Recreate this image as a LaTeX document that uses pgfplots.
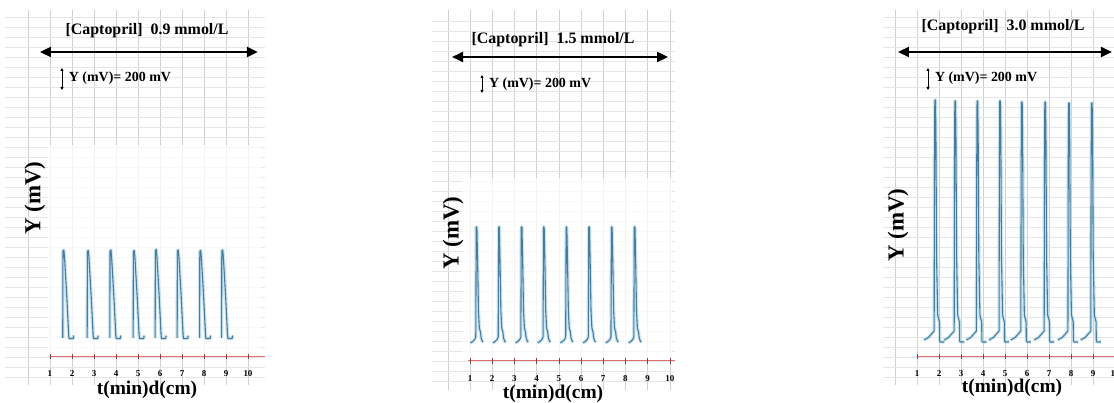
\documentclass[border=0pt]{standalone}
\usepackage{fontspec}
\setmainfont{Liberation Serif}
\usepackage{pgfplots}
\pgfplotsset{compat=1.18}
\usepackage{pgfplotstable}
\usetikzlibrary{arrows.meta}

\definecolor{tracecol}{RGB}{72,124,156}
\definecolor{halocol}{RGB}{172,214,236}
\definecolor{redline}{RGB}{224,112,112}
\definecolor{gridv}{RGB}{208,208,208}
\definecolor{gridh}{RGB}{230,230,230}

% Peak trains (t in min, Y in mV); "nan" rows break the trace between peaks
\pgfplotstableread{
x y
1.58 190
1.59 1060
1.63 1070
1.66 1000
1.76 620
1.85 220
1.87 185
2.06 185
2.08 215
nan nan
2.69 190
2.70 1055
2.74 1065
2.77 995
2.87 615
2.96 220
2.98 185
3.17 185
3.19 215
nan nan
3.72 190
3.73 1060
3.77 1070
3.80 1000
3.90 620
3.99 220
4.01 185
4.20 185
4.22 215
nan nan
4.78 190
4.79 1055
4.83 1065
4.86 995
4.96 615
5.05 220
5.07 185
5.26 185
5.28 215
nan nan
5.78 190
5.79 1065
5.83 1075
5.86 1005
5.96 620
6.05 220
6.07 185
6.26 185
6.28 215
nan nan
6.78 190
6.79 1060
6.83 1070
6.86 1000
6.96 620
7.05 220
7.07 185
7.26 185
7.28 215
nan nan
7.80 190
7.81 1055
7.85 1065
7.88 995
7.98 615
8.07 220
8.09 185
8.28 185
8.30 215
nan nan
8.80 190
8.81 1060
8.85 1070
8.88 1000
8.98 620
9.07 220
9.09 185
9.28 185
9.30 215
}\traceA

\pgfplotstableread{
x y
1.02 180
1.12 195
1.21 215
1.26 240
1.28 1340
1.31 1340
1.35 900
1.38 500
1.42 330
1.47 290
1.50 230
1.56 195
1.60 190
nan nan
2.03 180
2.13 195
2.22 215
2.27 240
2.29 1340
2.32 1340
2.36 900
2.39 500
2.43 330
2.48 290
2.51 230
2.57 195
2.61 190
nan nan
3.05 180
3.15 195
3.24 215
3.29 240
3.31 1340
3.34 1340
3.38 900
3.41 500
3.45 330
3.50 290
3.53 230
3.59 195
3.63 190
nan nan
4.05 180
4.15 195
4.24 215
4.29 240
4.31 1340
4.34 1340
4.38 900
4.41 500
4.45 330
4.50 290
4.53 230
4.59 195
4.63 190
nan nan
5.07 180
5.17 195
5.26 215
5.31 240
5.33 1340
5.36 1340
5.40 900
5.43 500
5.47 330
5.52 290
5.55 230
5.61 195
5.65 190
nan nan
6.09 180
6.19 195
6.28 215
6.33 240
6.35 1340
6.38 1340
6.42 900
6.45 500
6.49 330
6.54 290
6.57 230
6.63 195
6.67 190
nan nan
7.11 180
7.21 195
7.30 215
7.35 240
7.37 1340
7.40 1340
7.44 900
7.47 500
7.51 330
7.56 290
7.59 230
7.65 195
7.69 190
nan nan
8.14 180
8.24 195
8.33 215
8.38 240
8.40 1340
8.43 1340
8.47 900
8.50 500
8.54 330
8.59 290
8.62 230
8.68 195
8.72 190
}\traceB

\pgfplotstableread{
x y
1.32 170
1.52 195
1.70 240
1.78 260
1.795 2000
1.80 2050
1.81 2570
1.84 2570
1.86 2200
1.89 1000
1.94 420
2.02 350
2.03 160
2.06 150
2.24 150
nan nan
2.23 170
2.43 195
2.61 240
2.69 260
2.705 2000
2.71 2050
2.72 2560
2.75 2560
2.77 2200
2.80 1000
2.85 420
2.93 350
2.94 160
2.97 150
3.15 150
nan nan
3.24 170
3.44 195
3.62 240
3.70 260
3.715 2000
3.72 2050
3.73 2560
3.76 2560
3.78 2200
3.81 1000
3.86 420
3.94 350
3.95 160
3.98 150
4.16 150
nan nan
4.27 170
4.47 195
4.65 240
4.73 260
4.745 2000
4.75 2050
4.76 2560
4.79 2560
4.81 2200
4.84 1000
4.89 420
4.97 350
4.98 160
5.01 150
5.19 150
nan nan
5.26 170
5.46 195
5.64 240
5.72 260
5.735 2000
5.74 2050
5.75 2550
5.78 2550
5.80 2200
5.83 1000
5.88 420
5.96 350
5.97 160
6.00 150
6.18 150
nan nan
6.32 170
6.52 195
6.70 240
6.78 260
6.795 2000
6.80 2050
6.81 2550
6.84 2550
6.86 2200
6.89 1000
6.94 420
7.02 350
7.03 160
7.06 150
7.24 150
nan nan
7.40 170
7.60 195
7.78 240
7.86 260
7.875 2000
7.88 2050
7.89 2540
7.92 2540
7.94 2200
7.97 1000
8.02 420
8.10 350
8.11 160
8.14 150
8.32 150
nan nan
8.44 170
8.64 195
8.82 240
8.90 260
8.915 2000
8.92 2050
8.93 2540
8.96 2540
8.98 2200
9.01 1000
9.06 420
9.14 350
9.15 160
9.18 150
9.36 150
}\traceC

\pgfplotsset{
  recorder/.style={
    scale only axis, clip=false,
    axis line style={draw=none},
    tick style={draw=none},
    xtick={1,...,10},
    minor xtick={0},
    xticklabel style={font=\fontsize{9}{9}\selectfont\bfseries, yshift=18bp},
    /pgf/number format/assume math mode=true,
    ytick={-200,-100,...,3400},
    yticklabels={},
    grid=both,
    every axis x grid/.style={gridv, line width=0.6bp},
    every axis y grid/.style={gridh, line width=0.5bp},
    unbounded coords=jump,
  },
}
\tikzset{
  recglow/.style={halocol, line width=3.5bp, opacity=0.6, line join=round},
  recsignal/.style={tracecol, line width=1.1bp, line join=round},
  reczero/.style={redline, line width=1bp},
  recticks/.style={only marks, mark=|, mark size=2.5bp,
    mark options={redline!60!black, line width=0.6bp}},
  rechead/.style={font=\fontsize{16}{18}\selectfont\bfseries},
  recnote/.style={font=\fontsize{14}{16}\selectfont\bfseries, anchor=west},
  recylab/.style={font=\fontsize{23}{24}\selectfont\bfseries, rotate=90},
  recxlab/.style={font=\fontsize{19.5}{21}\selectfont\bfseries},
  recspan/.style={line width=2.2bp, {Triangle[length=11bp,width=10bp]}-{Triangle[length=11bp,width=10bp]}},
  recunit/.style={line width=0.8bp, {Triangle[length=3bp,width=3bp]}-{Triangle[length=3bp,width=3bp]}},
}

\begin{document}
\begin{tikzpicture}
\useasboundingbox (0,0) rectangle (1114bp,403bp);

% 0.9 mmol/L
\begin{axis}[recorder, at={(5bp,18bp)}, anchor=south west,
  width=260bp, height=375bp,
  xmin=-1.045, xmax=10.773, ymin=-280, ymax=3470]
  \addplot[draw=none, fill=white, fill opacity=0.75] coordinates {(0.91,0) (10.64,0) (10.64,2120) (0.91,2120)};
  \addplot[reczero] coordinates {(1,0) (10.77,0)};
  \addplot[recticks] coordinates {(1,0)(2,0)(3,0)(4,0)(5,0)(6,0)(7,0)(8,0)(9,0)(10,0)};
  \addplot[recglow] table {\traceA};
  \addplot[recsignal] table {\traceA};
  \node[rechead] at (5.41,3260) {[Captopril]\ \ 0.9 mmol/L};
  \draw[recspan] (0.545,3050) -- (10.45,3050);
  \draw[recunit] (1.545,2890) -- (1.545,2670);
  \node[recnote] at (1.70,2790) {Y (mV)= 200 mV};
  \node[recylab] at (0.318,1590) {Y (mV)};
  \node[recxlab] at (5.41,-330) {t(min)d(cm)};
\end{axis}

% 1.5 mmol/L
\begin{axis}[recorder, at={(432bp,13bp)}, anchor=south west,
  width=243bp, height=380bp,
  xmin=-0.712, xmax=10.234, ymin=-290, ymax=3510]
  \addplot[draw=none, fill=white, fill opacity=0.75] coordinates {(0.64,0) (10.1,0) (10.1,1830) (0.64,1830)};
  \addplot[reczero] coordinates {(0.91,0) (10.234,0)};
  \addplot[recticks] coordinates {(1,0)(2,0)(3,0)(4,0)(5,0)(6,0)(7,0)(8,0)(9,0)(10,0)};
  \addplot[recglow] table {\traceB};
  \addplot[recsignal] table {\traceB};
  \node[rechead] at (4.74,3210) {[Captopril]\ \ 1.5 mmol/L};
  \draw[recspan] (0.19,3040) -- (9.92,3040);
  \draw[recunit] (1.54,2860) -- (1.54,2680);
  \node[recnote] at (1.70,2770) {Y (mV)= 200 mV};
  \node[recylab] at (0.234,1280) {Y (mV)};
  \node[recxlab] at (4.74,-330) {t(min)d(cm)};
\end{axis}

% 3.0 mmol/L
\begin{axis}[recorder, at={(883bp,18bp)}, anchor=south west,
  width=238.6bp, height=375bp,
  xmin=-0.545, xmax=10.3, ymin=-280, ymax=3470]
  \addplot[reczero] coordinates {(1,0) (10.3,0)};
  \addplot[recticks] coordinates {(1,0)(2,0)(3,0)(4,0)(5,0)(6,0)(7,0)(8,0)(9,0)(10,0)};
  \addplot[recglow] table {\traceC};
  \addplot[recsignal] table {\traceC};
  \node[rechead] at (4.91,3300) {[Captopril]\ \ 3.0 mmol/L};
  \draw[recspan] (0.136,3050) -- (9.86,3050);
  \draw[recunit] (1.5,2890) -- (1.5,2670);
  \node[recnote] at (1.66,2790) {Y (mV)= 200 mV};
  \node[recylab] at (0.136,1320) {Y (mV)};
  \node[recxlab] at (5.32,-310) {t(min)d(cm)};
\end{axis}
\end{tikzpicture}
\end{document}
